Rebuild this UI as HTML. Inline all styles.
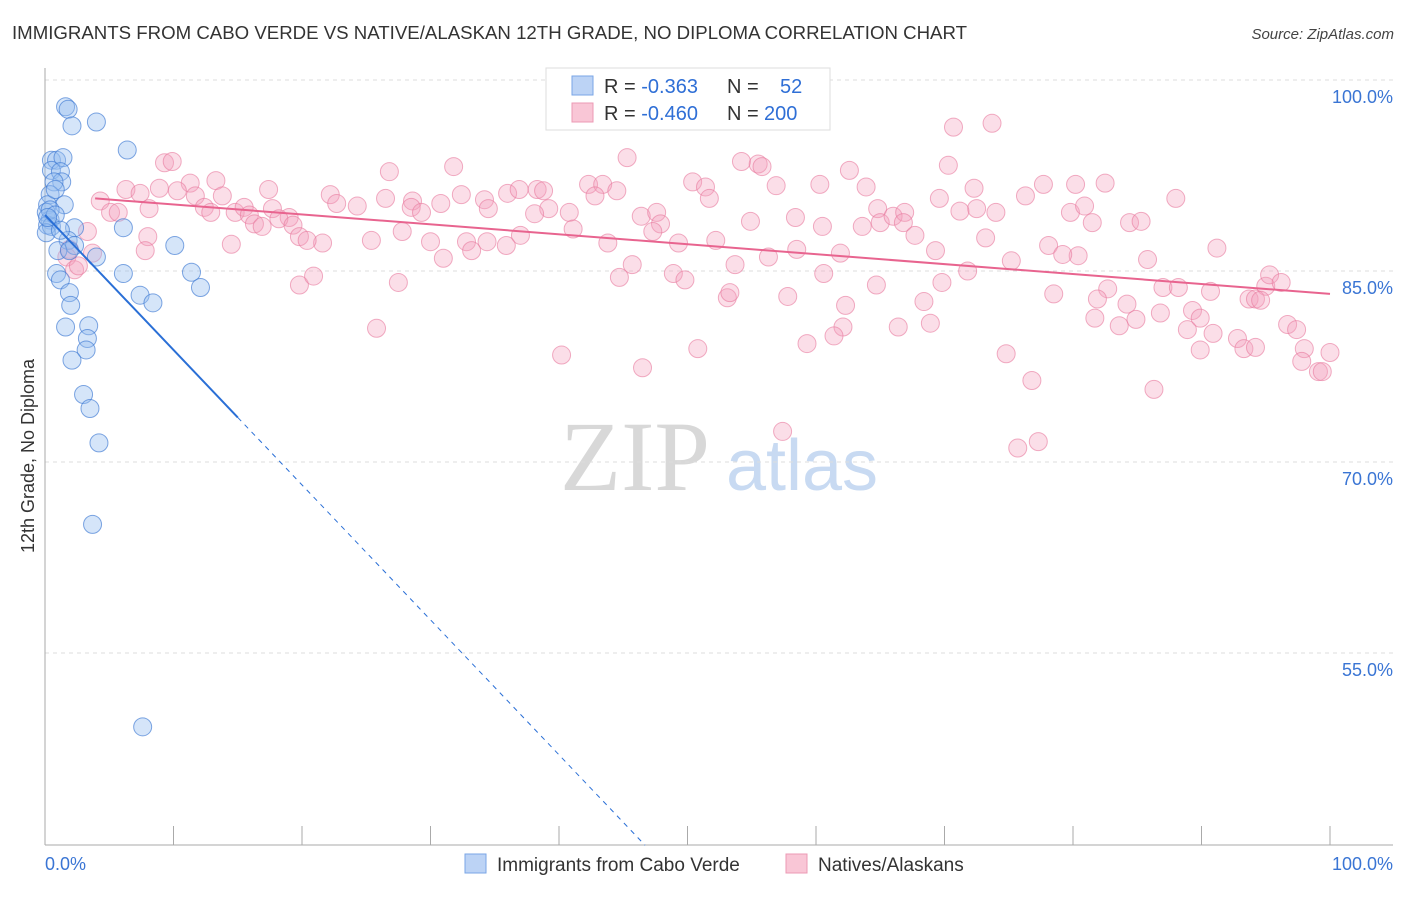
<!DOCTYPE html>
<html><head><meta charset="utf-8"><style>
body{margin:0;background:#fff;font-family:"Liberation Sans",sans-serif;}
svg text{font-family:"Liberation Sans",sans-serif;}
</style></head><body>
<svg id="chart" width="1406" height="892" xmlns="http://www.w3.org/2000/svg">
<text x="12" y="39" font-size="18.65" fill="#333">IMMIGRANTS FROM CABO VERDE VS NATIVE/ALASKAN 12TH GRADE, NO DIPLOMA CORRELATION CHART</text>
<text x="1394" y="39" font-size="15" fill="#444" text-anchor="end" font-style="italic">Source: ZipAtlas.com</text>
<text transform="translate(34,456) rotate(-90)" font-size="18" fill="#333" text-anchor="middle">12th Grade, No Diploma</text>
<g>
<text x="635" y="490" font-size="100" fill="#d8d8d8" text-anchor="middle" style="font-family:'Liberation Serif',serif">ZIP</text>
<text x="802" y="490" font-size="72" fill="#c8daf2" text-anchor="middle">atlas</text>
</g>
<g id="grid"></g><g id="axes"></g><g id="pts"></g><g id="trend"></g>
<g>
<rect x="546" y="68" width="284" height="62" fill="#fff" stroke="#ddd"/>
<rect x="572" y="76" width="21" height="19" fill="#bcd3f5" stroke="#7aa6e6"/>
<rect x="572" y="103" width="21" height="19" fill="#f9c6d6" stroke="#ec9ab4"/>
<text x="604" y="93" font-size="20" fill="#333">R = <tspan fill="#2f6fd6">-0.363</tspan><tspan x="727">N = </tspan><tspan x="780" fill="#2f6fd6">52</tspan></text>
<text x="604" y="120" font-size="20" fill="#333">R = <tspan fill="#2f6fd6">-0.460</tspan><tspan x="727">N = </tspan><tspan x="764" fill="#2f6fd6">200</tspan></text>
</g>
<g>
<rect x="465" y="854" width="21" height="19" fill="#bcd3f5" stroke="#7aa6e6"/>
<text x="497" y="871" font-size="19" fill="#333">Immigrants from Cabo Verde</text>
<rect x="786" y="854" width="21" height="19" fill="#f9c6d6" stroke="#ec9ab4"/>
<text x="818" y="871" font-size="19" fill="#333">Natives/Alaskans</text>
</g>
</svg>
<script>
const blueX=[1.6,1.8,2.1,4.0,6.4,0.5,0.9,1.4,0.5,1.2,1.3,0.7,0.4,1.5,0.2,0.1,0.4,0.2,0.5,0.1,2.3,6.1,1.8,2.3,4.0,10.1,1.0,0.9,1.2,6.1,11.4,12.1,1.9,2.0,7.4,8.4,1.6,3.4,3.3,3.2,2.1,3.0,3.5,4.2,3.7,7.6,0.4,0.8,1.2,0.2,1.9,0.8];
const blueY=[97.9,97.7,96.4,96.7,94.5,93.7,93.7,93.9,92.9,92.8,92.0,92.0,91.0,90.2,90.2,89.6,89.0,88.6,88.5,88.0,88.4,88.4,87.4,87.0,86.1,87.0,86.6,84.8,84.3,84.8,84.9,83.7,83.3,82.3,83.1,82.5,80.6,80.7,79.7,78.8,78.0,75.3,74.2,71.5,65.1,49.2,89.8,89.4,88.2,89.2,86.6,91.4];
const pinkX=[60.2,70.7,73.7,45.3,54.2,55.5,55.8,9.3,9.9,31.8,62.6,70.3,13.3,11.3,8.9,6.3,7.4,10.3,4.3,5.1,5.7,8.1,11.7,12.4,12.9,13.8,14.8,15.5,15.9,17.4,17.7,19.0,18.2,16.3,16.9,19.3,22.2,22.7,24.3,26.8,26.5,28.6,28.5,29.3,30.8,32.4,34.2,34.5,36.0,36.9,38.3,38.8,39.2,38.1,40.8,41.1,42.3,43.4,42.8,44.5,46.4,47.6,47.9,47.3,50.4,51.4,51.7,56.9,60.3,63.9,64.8,65.0,63.6,66.0,66.9,66.8,69.6,72.3,72.5,74.0,76.3,77.7,80.2,79.8,80.9,81.5,82.5,84.4,85.3,88.0,91.2,71.2,54.9,58.4,19.8,21.6,20.4,25.4,27.8,30.0,32.8,34.4,35.9,37.0,43.8,49.3,52.2,58.5,60.5,61.9,67.7,69.3,73.2,78.1,80.4,79.2,85.8,14.5,8.0,7.8,3.3,1.9,1.7,2.3,2.6,3.7,19.8,20.9,27.5,31.0,33.2,45.7,44.7,48.9,49.8,53.7,56.3,60.6,64.7,69.8,71.8,75.2,78.5,82.7,84.2,81.9,87.0,88.2,90.7,93.7,95.0,95.3,96.2,94.2,86.8,89.3,89.9,88.9,90.9,83.6,84.9,68.4,68.9,66.4,62.3,62.1,61.4,59.3,57.8,53.1,53.3,50.8,46.5,40.2,25.8,74.8,76.8,77.3,75.7,86.3,57.4,92.8,93.3,94.6,96.7,97.4,98.0,97.8,99.1,99.4,100,81.7,89.9,94.2];
const pinkY=[98.8,96.3,96.6,93.9,93.6,93.4,93.2,93.5,93.6,93.2,92.9,93.3,92.1,91.9,91.5,91.4,91.1,91.3,90.5,89.6,89.6,89.9,90.9,90.0,89.6,90.9,89.6,90.0,89.4,91.4,89.9,89.2,89.1,88.7,88.5,88.6,91.0,90.3,90.1,92.8,90.7,90.5,90.0,89.6,90.3,91.0,90.6,89.9,91.1,91.4,91.4,91.3,89.9,89.5,89.6,88.3,91.8,91.8,90.9,91.3,89.3,89.6,88.7,88.1,92.0,91.6,90.7,91.7,91.8,91.6,89.9,88.8,88.5,89.3,89.6,88.8,90.7,91.5,89.9,89.6,90.9,91.8,91.8,89.6,90.1,88.8,91.9,88.8,88.9,90.7,86.8,89.7,88.9,89.2,87.7,87.2,87.4,87.4,88.1,87.3,87.3,87.3,87.0,87.8,87.2,87.2,87.4,86.7,88.5,86.4,87.8,86.6,87.6,87.0,86.2,86.3,85.9,87.1,87.7,86.6,88.1,86.7,86.1,85.1,85.4,86.4,83.9,84.6,84.1,86.0,86.6,85.5,84.5,84.8,84.3,85.5,86.1,84.8,83.9,84.1,85.0,85.8,83.2,83.6,82.4,82.8,83.7,83.7,83.4,82.8,83.8,84.7,84.1,82.8,81.7,81.9,81.3,80.4,80.1,80.7,81.2,82.6,80.9,80.6,82.3,80.6,79.9,79.3,83.0,82.9,83.3,78.9,77.4,78.4,80.5,78.5,76.4,71.6,71.1,75.7,72.4,79.7,78.9,82.7,80.8,80.4,78.9,77.9,77.1,77.1,78.6,81.3,78.8,79.0];
// trend lines: [x0, y0, x1, y1]
const blueTrendSolid=[0,89.4,15.0,73.5];
const blueTrendDashEndX=[46.7];
const pinkTrend=[3.9,90.7,100,83.2];
const yTicks=[100,85,70,55];
const yTickLabels=["100.0%","85.0%","70.0%","55.0%"];
const xTicks=[0,10,20,30,40,50,60,70,80,90,100];

const NS="http://www.w3.org/2000/svg";
const X0=45,X1=1330,Ytop=80,Ybot=845;
const sx=v=>X0+(v/100)*(X1-X0);
const sy=v=>Ytop+(100-v)*12.733;
function mk(tag,attrs,parent){const e=document.createElementNS(NS,tag);for(const k in attrs)e.setAttribute(k,attrs[k]);parent.appendChild(e);return e;}
const grid=document.getElementById('grid'),axes=document.getElementById('axes'),pts=document.getElementById('pts'),tr=document.getElementById('trend');
yTicks.forEach((t,i)=>{
  const l=mk('line',{x1:X0,x2:1393,y1:sy(t),y2:sy(t),stroke:'#ddd','stroke-dasharray':'4,4'},grid);
  
  
  const tx=mk('text',{x:1393,y:sy(t)+23,'font-size':18,fill:'#3a75d4','text-anchor':'end'},grid);
  tx.textContent=yTickLabels[i];
  
  
});
const ya=mk('line',{x1:X0,x2:X0,y1:68,y2:Ybot,stroke:'#aaa'},axes);


const xa=mk('line',{x1:X0,x2:1393,y1:Ybot,y2:Ybot,stroke:'#aaa'},axes);


xTicks.forEach(t=>{
  const k=mk('line',{x1:sx(t),x2:sx(t),y1:826,y2:Ybot,stroke:'#aaa'},axes);
  
  
});
const xl0=mk('text',{x:45,y:870,'font-size':18,fill:'#3a75d4'},axes);xl0.textContent="0.0%";


const xl1=mk('text',{x:1393,y:870,'font-size':18,fill:'#3a75d4','text-anchor':'end'},axes);xl1.textContent="100.0%";


pinkX.forEach((v,i)=>{
  const c=mk('circle',{cx:sx(v),cy:sy(pinkY[i]),r:9,fill:'rgba(244,160,188,0.35)',stroke:'rgba(232,120,156,0.6)','stroke-width':1},pts);
  
  
});
blueX.forEach((v,i)=>{
  const c=mk('circle',{cx:sx(v),cy:sy(blueY[i]),r:9,fill:'rgba(150,190,240,0.4)',stroke:'rgba(60,120,210,0.65)','stroke-width':1},pts);
  
  
});
const bs=mk('line',{x1:sx(blueTrendSolid[0]),y1:sy(blueTrendSolid[1]),x2:sx(blueTrendSolid[2]),y2:sy(blueTrendSolid[3]),stroke:'#2a6fd6','stroke-width':2},tr);


const slope=(blueTrendSolid[3]-blueTrendSolid[1])/(blueTrendSolid[2]-blueTrendSolid[0]);
const ex=blueTrendDashEndX[0];
const bd=mk('line',{x1:sx(blueTrendSolid[2]),y1:sy(blueTrendSolid[3]),x2:sx(ex),y2:sy(blueTrendSolid[1]+slope*ex),stroke:'#2a6fd6','stroke-width':1,'stroke-dasharray':'5,5'},tr);


const pt=mk('line',{x1:sx(pinkTrend[0]),y1:sy(pinkTrend[1]),x2:sx(pinkTrend[2]),y2:sy(pinkTrend[3]),stroke:'#e8648f','stroke-width':2},tr);


</script>
</body></html>
